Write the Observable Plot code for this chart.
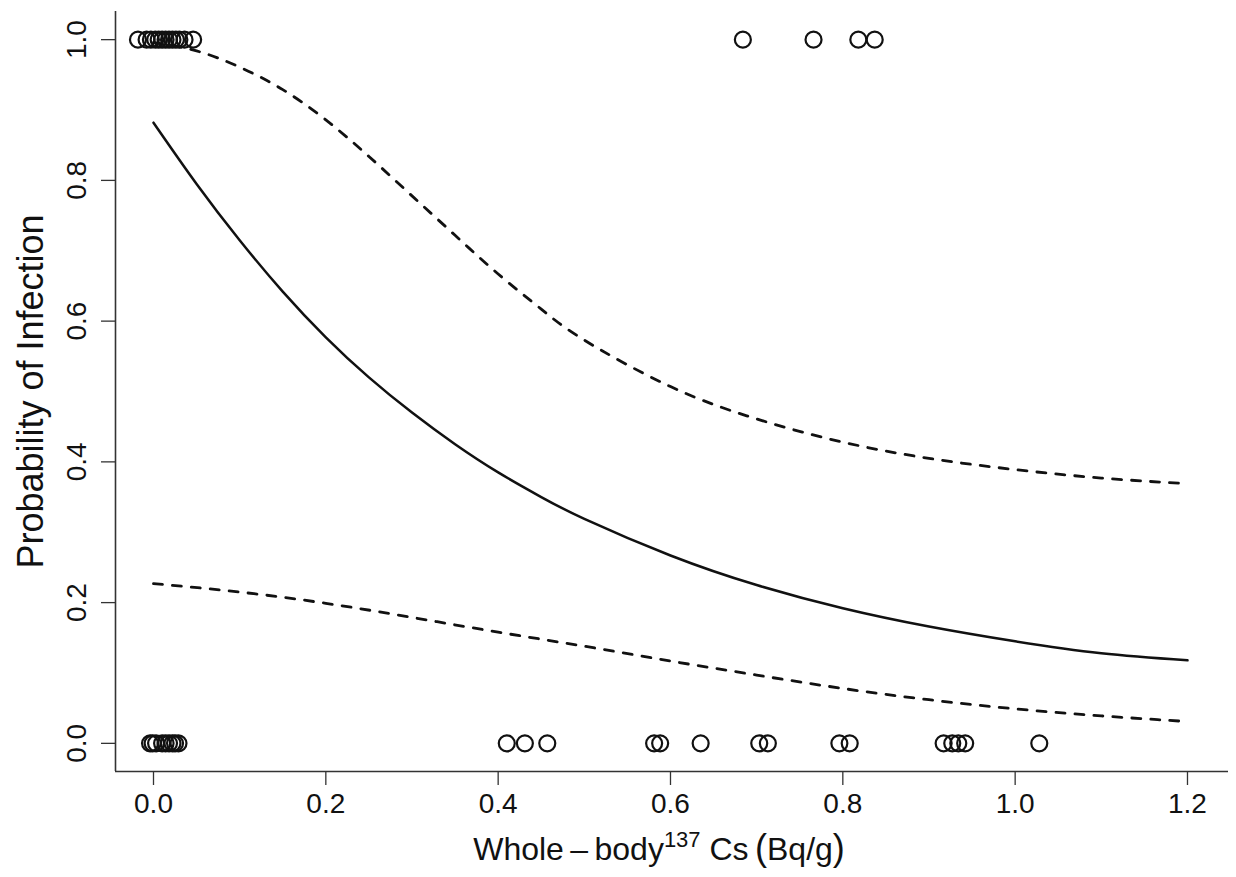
<!DOCTYPE html>
<html>
<head>
<meta charset="utf-8">
<script src="https://cdn.jsdelivr.net/npm/d3@7"></script>
<script src="https://cdn.jsdelivr.net/npm/@observablehq/plot@0.6"></script>
<style>
  html, body { margin: 0; padding: 0; background: #fff; }
  #chart svg { display: block; font-family: "Liberation Sans", Arial, sans-serif; }
</style>
</head>
<body>
<div id="chart"></div>
<script>
// Observed infection status (1 = infected, 0 = not infected) vs whole-body 137Cs (Bq/g)
const infectedX = [-0.018, -0.008, -0.003, 0.002, 0.006, 0.01, 0.014, 0.018, 0.022, 0.026, 0.03, 0.036, 0.046, 0.684, 0.766, 0.818, 0.837];
const uninfectedX = [-0.004, -0.001, 0.003, 0.01, 0.014, 0.018, 0.022, 0.025, 0.029, 0.41, 0.431, 0.457, 0.581, 0.588, 0.635, 0.703, 0.713, 0.796, 0.808, 0.917, 0.927, 0.934, 0.942, 1.028];

// Fitted probability and upper confidence band
const fitX   = [0, 0.05, 0.1, 0.15, 0.2, 0.25, 0.3, 0.35, 0.4, 0.45, 0.5, 0.6, 0.7, 0.8, 0.9, 1.0, 1.1, 1.2];
const fitP   = [0.882, 0.795, 0.715, 0.642, 0.577, 0.52, 0.47, 0.425, 0.385, 0.35, 0.319, 0.267, 0.225, 0.192, 0.166, 0.145, 0.128, 0.118];
const upperP = [0.996, 0.984, 0.961, 0.929, 0.886, 0.834, 0.778, 0.722, 0.667, 0.617, 0.573, 0.507, 0.461, 0.428, 0.405, 0.389, 0.377, 0.369];
// Lower confidence band
const lowerX = [0, 0.1, 0.2, 0.3, 0.4, 0.5, 0.6, 0.7, 0.8, 0.9, 1.0, 1.1, 1.2];
const lowerP = [0.227, 0.215, 0.199, 0.179, 0.158, 0.138, 0.117, 0.097, 0.078, 0.062, 0.049, 0.039, 0.031];

// Tick labels
const xTicks = [0, 0.2, 0.4, 0.6, 0.8, 1.0, 1.2];
const yTicks = [0, 0.2, 0.4, 0.6, 0.8, 1.0];

const points = [
  ...infectedX.map(x => ({x, y: 1})),
  ...uninfectedX.map(x => ({x, y: 0}))
];
const fitData = fitX.map((x, i) => ({x, p: fitP[i], u: upperP[i]}));
const lowerData = lowerX.map((x, i) => ({x, p: lowerP[i]}));

const xDomain = [-0.0441, 1.2476];
const yDomain = [-0.04, 1.04];
const fmt = d3.format(".1f");

const plot = Plot.plot({
  width: 1236,
  height: 877,
  marginLeft: 115,
  marginRight: 8,
  marginTop: 11,
  marginBottom: 106,
  x: {domain: xDomain},
  y: {domain: yDomain},
  marks: [
    Plot.ruleX([xDomain[0]], {stroke: "#333", strokeWidth: 1.6}),
    Plot.ruleY([yDomain[0]], {stroke: "#333", strokeWidth: 1.6}),
    Plot.axisX({ticks: xTicks, tickSize: 14, tickPadding: 8, tickFormat: fmt, fontSize: 28, stroke: "#333", strokeWidth: 1.3, fill: "#111", label: null}),
    Plot.axisY({ticks: yTicks, tickSize: 14, tickFormat: () => "", stroke: "#333", strokeWidth: 1.3, label: null}),
    Plot.text(yTicks, {y: d => d, frameAnchor: "left", dx: -38, rotate: -90, text: d => fmt(d), fontSize: 28, fill: "#111", textAnchor: "middle", lineAnchor: "middle"}),
    Plot.text(["Probability of Infection"], {frameAnchor: "left", dx: -84, rotate: -90, text: d => d, fontSize: 36, fill: "#111", textAnchor: "middle", lineAnchor: "middle"}),
    Plot.line(fitData, {x: "x", y: "u", stroke: "#111", strokeWidth: 2.8, strokeDasharray: "9,10", curve: "natural"}),
    Plot.line(lowerData, {x: "x", y: "p", stroke: "#111", strokeWidth: 2.8, strokeDasharray: "9,10", curve: "natural"}),
    Plot.line(fitData, {x: "x", y: "p", stroke: "#111", strokeWidth: 2.5, curve: "natural"}),
    Plot.dot(points, {x: "x", y: "y", r: 8, stroke: "#111", strokeWidth: 2.2, fill: "none"})
  ]
});

document.getElementById("chart").appendChild(plot);

// X-axis title with superscript
const svg = d3.select(plot);
const t = svg.append("text")
  .attr("x", 659)
  .attr("y", 860)
  .attr("text-anchor", "middle")
  .attr("fill", "#111")
  .attr("font-size", 32)
  .attr("font-family", "'Liberation Sans', Arial, sans-serif");
t.append("tspan").text("Whole\u2009\u2013\u2009body");
t.append("tspan").attr("font-size", 22).attr("dy", -13).text("137");
t.append("tspan").attr("dy", 13).text(" Cs\u2009");
t.append("tspan").attr("font-size", 36).text("(");
t.append("tspan").text("Bq/g");
t.append("tspan").attr("font-size", 36).text(")");
</script>
</body>
</html>
